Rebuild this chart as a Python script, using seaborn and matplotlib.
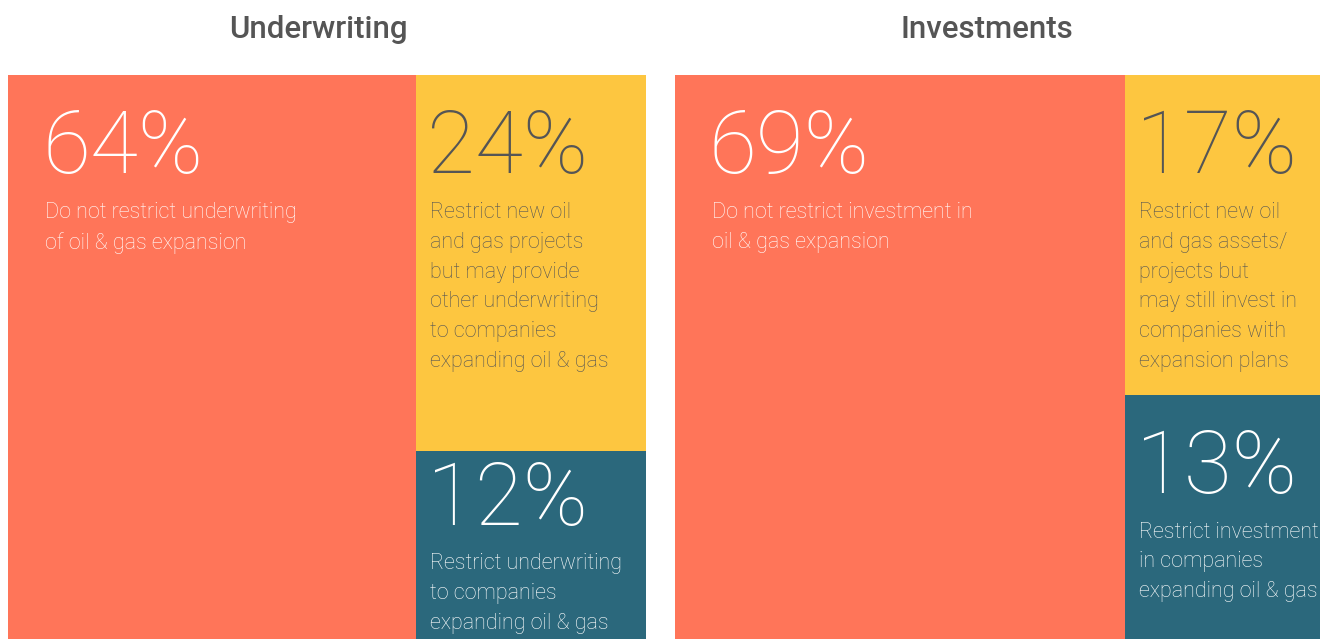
import matplotlib
matplotlib.use("Agg")
import matplotlib.pyplot as plt
import seaborn as sns

# --- data ---
panel_titles = ["Underwriting", "Investments"]
underwriting_values = [64, 24, 12]
investment_values = [69, 17, 13]
underwriting_labels = [
    "Do not restrict underwriting\nof oil & gas expansion",
    "Restrict new oil\nand gas projects\nbut may provide\nother underwriting\nto companies\nexpanding oil & gas",
    "Restrict underwriting\nto companies\nexpanding oil & gas",
]
investment_labels = [
    "Do not restrict investment in\noil & gas expansion",
    "Restrict new oil\nand gas assets/\nprojects but\nmay still invest in\ncompanies with\nexpansion plans",
    "Restrict investment\nin companies\nexpanding oil & gas",
]

colors = ["#FF7559", "#FDC640", "#2B687C"]
text_colors = ["white", "#555555", "white"]

sns.set_theme(style="white")
plt.rcParams["font.family"] = ["Roboto", "DejaVu Sans"]

W, H = 1320, 639
AX_H = 564


def draw_treemap(ax, values, labels):
    """Draw a 1 + 2 treemap, big block left, two stacked blocks right."""
    total = sum(values)
    big = values[0] / total * 100
    top_h = values[1] / (values[1] + values[2]) * 100

    ax.bar(0, 100, width=big, bottom=0, align="edge", color=colors[0], linewidth=0)
    ax.bar(big, top_h, width=100 - big, bottom=0, align="edge", color=colors[1], linewidth=0)
    ax.bar(big, 100 - top_h, width=100 - big, bottom=top_h, align="edge",
           color=colors[2], linewidth=0)
    ax.set_xlim(0, 100)
    ax.set_ylim(100, 0)
    ax.axis("off")

    corners = [(0, 0, 100), (big, 0, top_h), (big, top_h, 100 - top_h)]
    for i, (x0, y0, h) in enumerate(corners):
        left = 37 if i == 0 else 14
        compact = h / 100 * AX_H < 220
        num_pad = 8 if compact else 33
        ax.annotate(f"{values[i]}%", xy=(x0, y0), xytext=(left - 3, -num_pad),
                    textcoords="offset pixels", ha="left", va="top",
                    fontsize=63, fontweight="light", color=text_colors[i])
        ax.annotate(labels[i], xy=(x0, y0), xytext=(left, -(num_pad + 94)),
                    textcoords="offset pixels", ha="left", va="top",
                    fontsize=15.5, fontweight="light", color=text_colors[i],
                    linespacing=1.55)


fig = plt.figure(figsize=(W / 100, H / 100), dpi=100)
ax1 = fig.add_axes([8 / W, 0, 638 / W, AX_H / H])
ax2 = fig.add_axes([675 / W, 0, 645 / W, AX_H / H])

draw_treemap(ax1, underwriting_values, underwriting_labels)
draw_treemap(ax2, investment_values, investment_labels)

fig.text(318 / W, 1 - 30 / H, panel_titles[0], ha="center", va="center",
         fontsize=22.5, fontweight="medium", color="#555555")
fig.text(987 / W, 1 - 30 / H, panel_titles[1], ha="center", va="center",
         fontsize=22.5, fontweight="medium", color="#555555")

fig.savefig("out.png", dpi=100)
